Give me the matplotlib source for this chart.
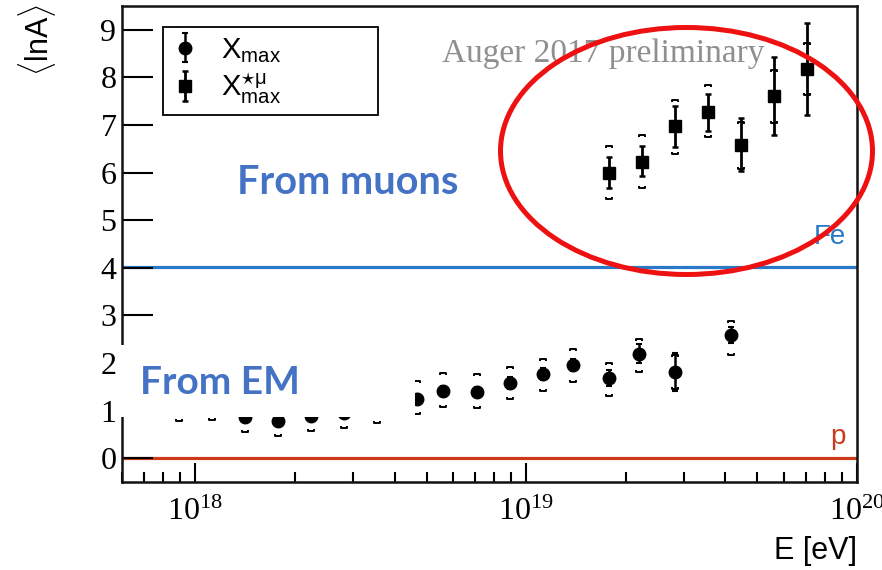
import numpy as np
import matplotlib
matplotlib.use('Agg')
import matplotlib.pyplot as plt
from matplotlib.path import Path
from matplotlib.patches import Ellipse, Rectangle
from matplotlib.ticker import FixedLocator, FuncFormatter, NullFormatter

plt.rcParams['mathtext.fontset'] = 'custom'
plt.rcParams['mathtext.rm'] = 'Liberation Serif'
plt.rcParams['mathtext.sf'] = 'Liberation Sans'
plt.rcParams['mathtext.it'] = 'Liberation Serif:italic'

# <lnA> from Xmax (EM component)
logE_em = [17.95, 18.05, 18.15, 18.25, 18.35, 18.45, 18.55, 18.67, 18.75,
           18.85, 18.95, 19.05, 19.14, 19.25, 19.34, 19.45, 19.62]
lnA_em = [1.11, 1.13, 0.87, 0.78, 0.89, 0.96, 1.07, 1.24, 1.41,
          1.39, 1.58, 1.77, 1.96, 1.68, 2.19, 1.81, 2.59]
stat_em = [0.1, 0.1, 0.1, 0.1, 0.1, 0.1, 0.1, 0.1, 0.1,
           0.1, 0.12, 0.12, 0.13, 0.17, 0.2, 0.39, 0.17]
sysup_em = [0.35, 0.35, 0.35, 0.35, 0.35, 0.35, 0.35, 0.38, 0.38,
            0.38, 0.34, 0.31, 0.33, 0.32, 0.31, 0.36, 0.29]
sysdn_em = [0.33, 0.33, 0.32, 0.32, 0.32, 0.33, 0.33, 0.31, 0.34,
            0.34, 0.34, 0.36, 0.36, 0.37, 0.38, 0.36, 0.42]

# <lnA> from X*mu_max (muon production depth)
logE_mu = [19.25, 19.35, 19.45, 19.55, 19.65, 19.75, 19.85]
lnA_mu = [6.0, 6.23, 6.97, 7.28, 6.57, 7.6, 8.17]
statup_mu = [0.32, 0.32, 0.42, 0.38, 0.57, 0.82, 0.97]
statdn_mu = [0.32, 0.31, 0.44, 0.40, 0.53, 0.80, 0.95]
sysup_mu = [0.55, 0.55, 0.55, 0.57, 0.5, 0.55, 0.55]
sysdn_mu = [0.55, 0.55, 0.57, 0.54, 0.5, 0.55, 0.55]

lnA_p = np.log(1)
lnA_fe = np.log(56)

E_em = 10 ** np.array(logE_em)
E_mu = 10 ** np.array(logE_mu)

# bracket shaped markers for systematic uncertainties
br_up = Path([(-1, -0.7), (-1, 0), (1, 0), (1, -0.7)],
             [Path.MOVETO, Path.LINETO, Path.LINETO, Path.LINETO])
br_dn = Path([(-1, 0.7), (-1, 0), (1, 0), (1, 0.7)],
             [Path.MOVETO, Path.LINETO, Path.LINETO, Path.LINETO])

fig = plt.figure(figsize=(8.82, 5.70), dpi=100)
ax = fig.add_axes([122 / 882, 1 - 482 / 570, 735 / 882, 476 / 570])

ax.axhline(lnA_fe, color='#2a78c8', lw=2.3, zorder=1)
ax.axhline(lnA_p, color='#cc3a1c', lw=2.3, zorder=1)

h_em = ax.errorbar(E_em, lnA_em, yerr=stat_em, fmt='o', color='black', ms=9,
                   elinewidth=1.8, capsize=2.5, capthick=1.5, zorder=3)
h_mu = ax.errorbar(E_mu, lnA_mu, yerr=[statdn_mu, statup_mu], fmt='s', color='black',
                   ms=9, elinewidth=2.0, capsize=2.5, capthick=1.8, zorder=3)

for E, y, up, dn in [(E_em, lnA_em, sysup_em, sysdn_em),
                     (E_mu, lnA_mu, sysup_mu, sysdn_mu)]:
    ax.plot(E, np.array(y) + np.array(up), ls='none', marker=br_up, ms=5,
            color='black', mec='black', mfc='none', mew=1.4, zorder=3)
    ax.plot(E, np.array(y) - np.array(dn), ls='none', marker=br_dn, ms=5,
            color='black', mec='black', mfc='none', mew=1.4, zorder=3)

ax.set_xscale('log')
ax.set_xlim(6.0e17, 1e20)
ax.set_ylim(-0.5, 9.5)

ax.yaxis.set_major_locator(FixedLocator(range(0, 10)))
ax.xaxis.set_major_locator(FixedLocator([1e18, 1e19, 1e20]))
ax.xaxis.set_major_formatter(FuncFormatter(lambda v, p: r'$\mathrm{10^{%d}}$' % round(np.log10(v))))
ax.xaxis.set_minor_formatter(NullFormatter())
ax.tick_params(axis='y', direction='in', length=22, width=1.5, pad=4,
               labelsize=23, labelfontfamily='Liberation Serif')
ax.tick_params(axis='x', which='major', direction='in', length=14, width=1.5, pad=10,
               labelsize=23)
ax.tick_params(axis='x', which='minor', direction='in', length=7, width=1.5)
for s in ax.spines.values():
    s.set_linewidth(1.8)
    s.set_color('#111111')

leg = ax.legend([h_em, h_mu],
                [r'$\mathsf{X_{max}}$', r'$\mathsf{X^{\star\mu}_{max}}$'],
                loc='upper left', mode='expand',
                bbox_to_anchor=(41 / 735, (482 - 111) / 476, 215 / 735, 84 / 476),
                borderaxespad=0, fancybox=False, edgecolor='black', framealpha=1,
                fontsize=21, handlelength=0.9, handletextpad=0.8, labelspacing=0.2,
                borderpad=0.3)
leg.get_frame().set_linewidth(1.3)
leg.set_zorder(5)

ax.text(0.435, 0.90, 'Auger 2017 preliminary', transform=ax.transAxes,
        fontsize=24, family='Liberation Serif', color='#8f8f8f', va='center')
ax.text(0.985, 4.5, 'Fe', transform=ax.get_yaxis_transform(), ha='right',
        fontsize=20, family='Liberation Sans', color='#2a78c8')
ax.text(0.985, 0.3, 'p', transform=ax.get_yaxis_transform(), ha='right',
        fontsize=20, family='Liberation Sans', color='#cc3a1c')

fig.text(37 / 882, 1 - 4 / 570, r'$\langle\mathsf{lnA}\rangle$', rotation=90,
         ha='center', va='top', fontsize=22)
fig.text(857 / 882, 1 - 551 / 570, 'E [eV]', ha='right', va='center',
         fontsize=22, family='Liberation Sans')

# white label box over the low-energy points
fig.add_artist(Rectangle((120 / 882, 1 - 417 / 570), 295 / 882, 72 / 570,
                         transform=fig.transFigure, facecolor='white',
                         edgecolor='none', zorder=6))
fig.text(140 / 882, 1 - 382 / 570, 'From EM', fontsize=28, weight='bold',
         family='Lato', color='#4472c4', va='center', zorder=7)
fig.text(237 / 882, 1 - 183 / 570, 'From muons', fontsize=28.5, weight='bold',
         family='Lato', color='#4472c4', va='center', zorder=7)

fig.add_artist(Ellipse((686.5 / 882, 1 - 151 / 570), 372 / 882, 247 / 570,
                       transform=fig.transFigure, fill=False,
                       edgecolor='#ee1111', lw=3.6, zorder=8))

fig.savefig('out.png', dpi=100)
